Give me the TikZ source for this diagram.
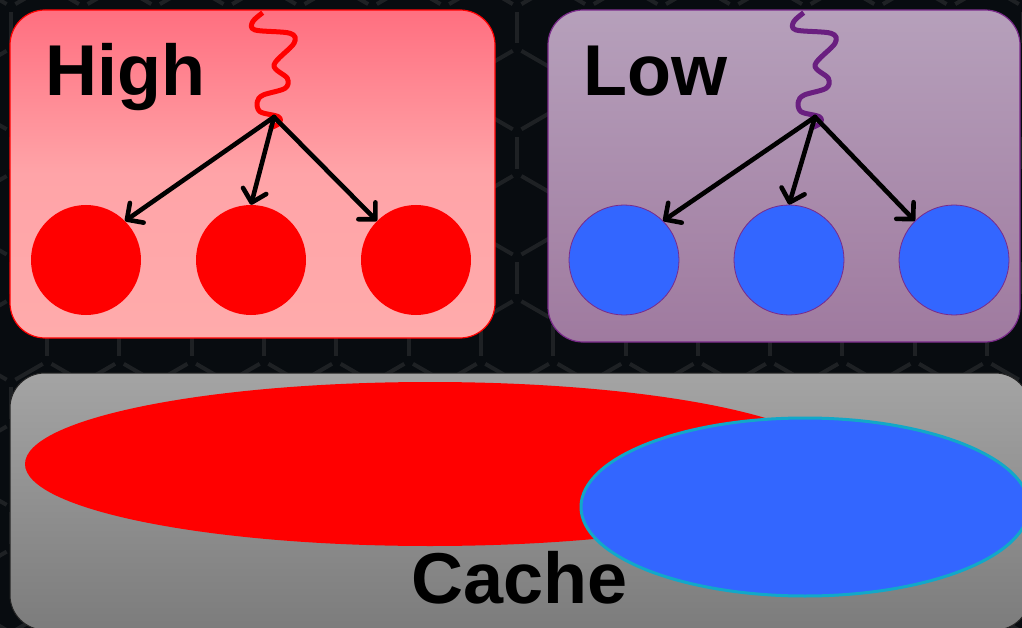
\documentclass[tikz,border=0pt]{standalone}
\usepackage{fontspec}
\setmainfont{Liberation Sans}
\usetikzlibrary{arrows.meta}
\definecolor{bgc}{HTML}{080C10}
\definecolor{hexc}{HTML}{1E2124}
\definecolor{hiTop}{HTML}{FF6F80}
\definecolor{hiMid}{HTML}{FFA4A8}
\definecolor{hiBot}{HTML}{FFABAB}
\definecolor{loTop}{HTML}{B6A0BB}
\definecolor{loBot}{HTML}{9F7A9F}
\definecolor{loEdge}{HTML}{7A2A8A}
\definecolor{sqPurple}{HTML}{6A1F80}
\definecolor{caTop}{HTML}{A4A4A4}
\definecolor{caBot}{HTML}{7C7C7C}
\definecolor{blueC}{HTML}{3366FF}
\definecolor{cyanC}{HTML}{12A8C8}
\tikzset{
  hexseg/.style={hexc, line width=4pt, shorten >=5pt, shorten <=5pt},
  boxhigh/.style={top color=hiTop, bottom color=hiBot, middle color=hiMid, draw=red, line width=1.2pt, rounded corners=35pt},
  boxlow/.style={top color=loTop, bottom color=loBot, draw=loEdge, line width=1.2pt, rounded corners=35pt},
  boxcache/.style={top color=caTop, bottom color=caBot, draw=black!85, line width=1pt, rounded corners=35pt},
  redball/.style={circle, fill=red, minimum size=110pt, inner sep=0pt},
  blueball/.style={circle, fill=blueC, draw=loEdge, line width=0.8pt, minimum size=110pt, inner sep=0pt},
  arr/.style={black, line width=4.6pt, line cap=round, line join=round, -{Straight Barb[length=12pt, width=24pt, line cap=round, line join=round]}},
  squig/.style={line width=5pt, line cap=butt, line join=round},
  lbl/.style={font=\fontsize{72}{72}\selectfont\bfseries, text=black, inner sep=0pt, anchor=base west}
}
\begin{document}
\begin{tikzpicture}[x=1pt, y=-1pt]
\useasboundingbox (0,0) rectangle (1022,628);
\fill[bgc] (0,0) rectangle (1022,628);
% honeycomb background
\begin{scope}
\clip (0,0) rectangle (1022,628);
\foreach \k in {-1,...,14}{
  \foreach \m in {0,...,5}{
    \pgfmathsetmacro\xo{11+72.3*\k}
    \pgfmathsetmacro\yo{-118.6+125.2*\m}
    \draw[hexseg] (\xo,\yo) -- (\xo,\yo+41.73);
    \draw[hexseg] (\xo,\yo+41.73) -- (\xo+36.15,\yo+62.6);
    \draw[hexseg] (\xo,\yo+41.73) -- (\xo-36.15,\yo+62.6);
    \draw[hexseg] (\xo+36.15,\yo+62.6) -- (\xo+36.15,\yo+104.33);
    \draw[hexseg] (\xo+36.15,\yo+104.33) -- (\xo,\yo+125.2);
    \draw[hexseg] (\xo+36.15,\yo+104.33) -- (\xo+72.3,\yo+125.2);
  }
}
\end{scope}
% boxes
\shade[boxhigh] (10,10) rectangle (495,338);
\shade[boxlow] (548,10) rectangle (1020,342);
\shade[boxcache] (10,373) rectangle (1030,630);
% cache ellipses
\fill[red] (430,464) ellipse [x radius=405pt, y radius=82pt];
\filldraw[fill=blueC, draw=cyanC, line width=3pt] (805,507) ellipse [x radius=224pt, y radius=89pt];
% labels
\node[lbl] (thigh) at (45,96) {High};
\node[lbl] (tlow) at (583,96) {Low};
\node[lbl] (tcache) at (411,603) {Cache};
% high group
\node[redball] (h1) at (86,260) {};
\node[redball] (h2) at (251,260) {};
\node[redball] (h3) at (416,260) {};
\draw[squig, red] plot[smooth, tension=0.55] coordinates {(262.7,12.7) (252.7,21.7) (255,30) (290,33.3) (294,43.3) (274,65) (287.3,78.3) (285,88.3) (263.3,95) (257.3,101.7) (260,111.7) (278.3,116.7) (279.3,123.3) (269.3,128.3)};
\coordinate (hs) at (274,117);
\draw[arr] (hs) -- (h1.north east);
\draw[arr] (hs) -- (h2.north);
\draw[arr] (hs) -- (h3.north west);
% low group
\node[blueball] (l1) at (624,260) {};
\node[blueball] (l2) at (789,260) {};
\node[blueball] (l3) at (954,260) {};
\begin{scope}[shift={(541,0)}]
\draw[squig, sqPurple] plot[smooth, tension=0.55] coordinates {(262.7,12.7) (252.7,21.7) (255,30) (290,33.3) (294,43.3) (274,65) (287.3,78.3) (285,88.3) (263.3,95) (257.3,101.7) (260,111.7) (278.3,116.7) (279.3,123.3) (269.3,128.3)};
\end{scope}
\coordinate (ls) at (815,117);
\draw[arr] (ls) -- (l1.north east);
\draw[arr] (ls) -- (l2.north);
\draw[arr] (ls) -- (l3.north west);
\end{tikzpicture}
\end{document}
